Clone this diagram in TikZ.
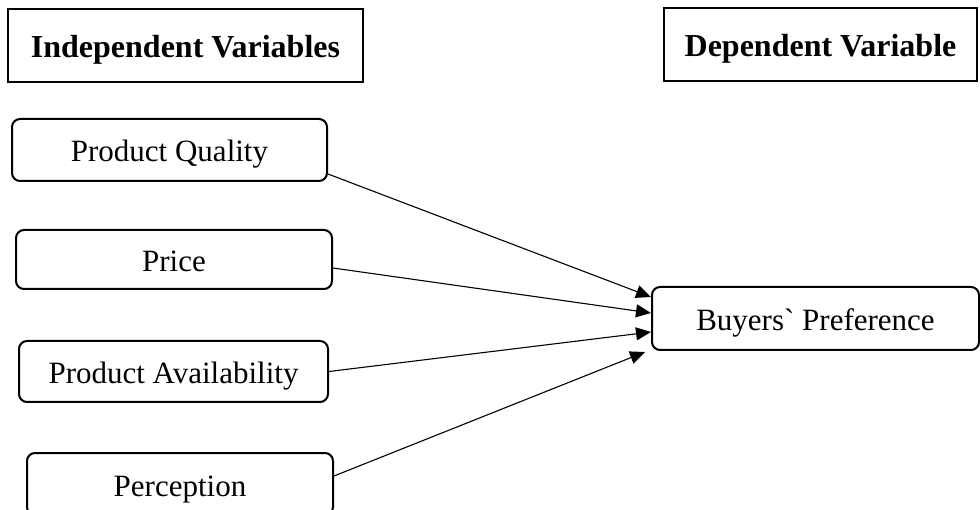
\documentclass[tikz,border=0pt]{standalone}
\usepackage{fontspec}
\setmainfont{Liberation Serif}
% same family without the TeX ligature mapping, for a literal grave accent
\newfontfamily\rawserif{Liberation Serif}
\usetikzlibrary{arrows.meta}
\begin{document}
\begin{tikzpicture}[x=1pt, y=-1pt,
  headbox/.style={draw, line width=2pt, inner sep=0pt, align=center,
    text height=25pt, text depth=0pt,
    font=\fontsize{32}{34}\selectfont\bfseries},
  varbox/.style={draw, line width=2pt, rounded corners=8pt, inner sep=0pt,
    align=center, text height=24pt, text depth=0pt,
    font=\fontsize{31}{33}\selectfont},
  link/.style={line width=1.1pt, -{Triangle[length=15pt, width=13pt]}}]
\useasboundingbox (0,0) rectangle (980,510);
% column headings
\node[headbox, minimum width=355pt, minimum height=73pt] (indep) at (185.5,45.5) {Independent Variables};
\node[headbox, minimum width=313pt, minimum height=73pt] (dep) at (820.5,44.5) {Dependent Variable};
% independent variables
\node[varbox, minimum width=315pt, minimum height=62pt] (pq) at (169.5,150) {Product Quality};
\node[varbox, minimum width=316pt, minimum height=59pt] (price) at (174,259.5) {Price};
\node[varbox, minimum width=309pt, minimum height=61pt] (avail) at (173.5,371.5) {Product Availability};
\node[varbox, minimum width=306pt, minimum height=62pt] (perc) at (180,484) {Perception};
% dependent variable
\node[varbox, minimum width=327pt, minimum height=63pt] (bp) at (815.5,318.5) {Buyers{\rawserif`} Preference};
% links
\draw[link] ([yshift=-24pt]pq.east) -- ([yshift=21.5pt]bp.west);
\draw[link] ([yshift=-8.5pt]price.east) -- ([yshift=5.5pt]bp.west);
\draw[link] (avail.east) -- ([yshift=-13.5pt]bp.west);
\draw[link] ([yshift=8pt]perc.east) -- ([xshift=-6pt,yshift=-33.5pt]bp.west);
\end{tikzpicture}
\end{document}
